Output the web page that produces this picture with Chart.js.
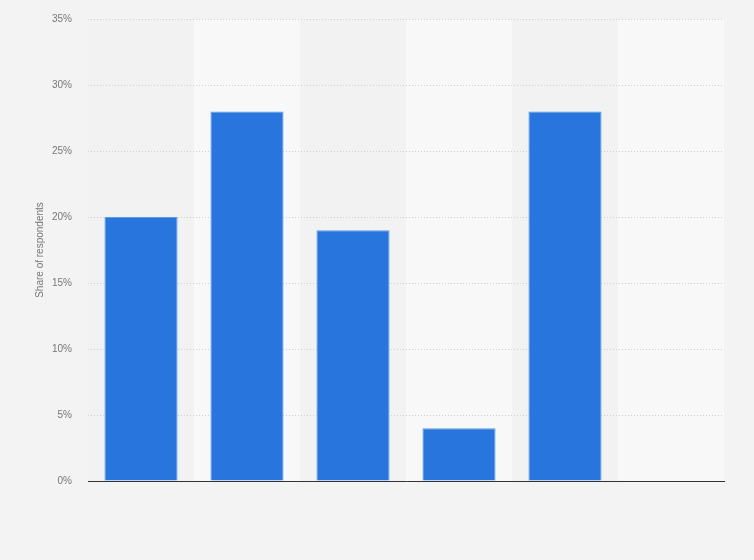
<!DOCTYPE html>
<html>
<head>
<meta charset="utf-8">
<script src="https://cdn.jsdelivr.net/npm/chart.js@4/dist/chart.umd.min.js"></script>
<style>
	html, body { margin: 0; padding: 0; background: #f3f3f3; }
	#wrap { width: 754px; height: 560px; }
</style>
</head>
<body>
<div id="wrap"><canvas id="chart" width="754" height="560"></canvas></div>
<script>
	// Chart data.
	var categories = ['', '', '', '', '', ''];
	var shares = [20, 28, 19, 4, 28, 0];
	var yTicks = [0, 5, 10, 15, 20, 25, 30, 35];

	var COLORS = {
		bar:       '#2876dd',
		barBorder: '#5b9be8',
		bandLight: '#f8f8f8',
		bandDark:  '#f2f2f2',
		grid:      '#cfcfcf',
		axis:      '#333333',
		text:      '#777777'
	};

	// Alternating column bands behind the bars.
	var bandsPlugin = {
		id: 'bands',
		beforeDraw: function (chart) {
			var ctx = chart.ctx;
			var area = chart.chartArea;
			var x = chart.scales.x;
			ctx.save();
			categories.forEach(function (c, i) {
				var half = (x.getPixelForValue(1) - x.getPixelForValue(0)) / 2;
				var cx = x.getPixelForValue(i);
				ctx.fillStyle = i % 2 ? COLORS.bandLight : COLORS.bandDark;
				ctx.fillRect(cx - half, area.top, half * 2, area.bottom - area.top);
			});
			ctx.restore();
		}
	};

	new Chart(document.getElementById('chart'), {
		type: 'bar',
		data: {
			labels: categories,
			datasets: [{
				data: shares,
				backgroundColor: COLORS.bar,
				borderColor: COLORS.barBorder,
				borderWidth: 1,
				barPercentage: 0.69,
				categoryPercentage: 1
			}]
		},
		options: {
			responsive: false,
			animation: false,
			layout: { padding: { top: 19, right: 30, left: 0, bottom: 0 } },
			plugins: {
				legend: { display: false },
				tooltip: { enabled: false }
			},
			scales: {
				x: {
					grid: { display: false },
					border: { display: true, color: COLORS.axis, width: 1, z: 1 },
					ticks: { display: false },
					afterFit: function (scale) { scale.height = 79; }
				},
				y: {
					min: 0,
					max: 35,
					afterBuildTicks: function (scale) {
						scale.ticks = yTicks.map(function (v) { return { value: v }; });
					},
					grid: { color: COLORS.grid, drawTicks: false, lineWidth: 1 },
					border: { display: false, dash: [1, 2] },
					ticks: {
						color: COLORS.text,
						padding: 16,
						font: { family: 'Liberation Sans, Arial, sans-serif', size: 10 },
						callback: function (v) { return v + '%'; }
					},
					title: {
						display: true,
						text: 'Share of respondents',
						color: COLORS.text,
						padding: { top: 34, bottom: 0 },
						font: { family: 'Liberation Sans, Arial, sans-serif', size: 10 }
					},
					afterFit: function (scale) {
						scale.width = 88;
						scale.paddingTop = 0;
						scale.paddingBottom = 0;
					}
				}
			}
		},
		plugins: [bandsPlugin]
	});
</script>
</body>
</html>
